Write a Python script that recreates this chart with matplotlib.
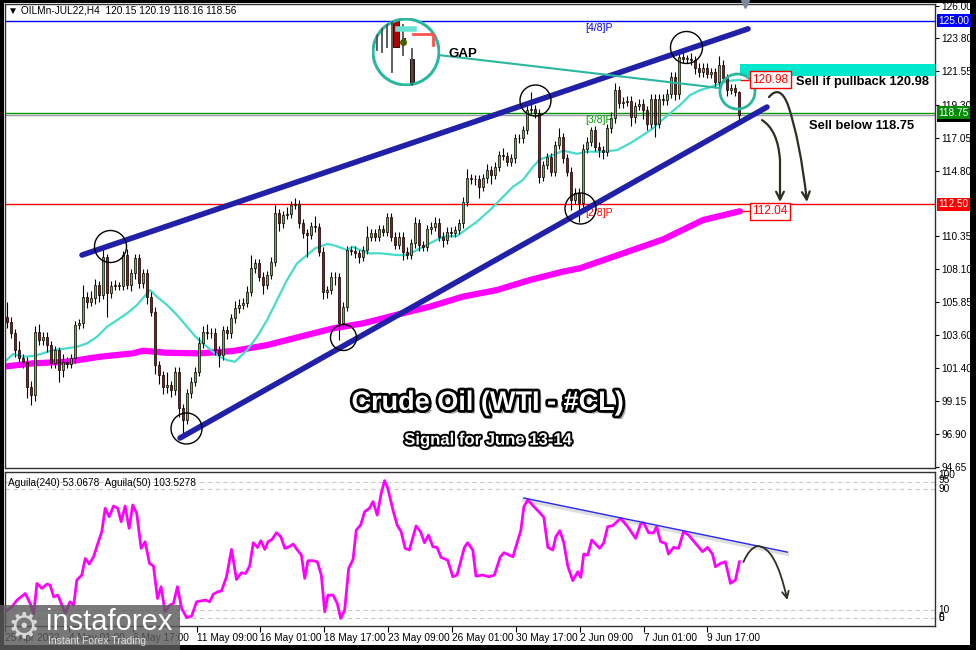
import numpy as np
import matplotlib
matplotlib.use("Agg")
import matplotlib.pyplot as plt
import matplotlib.patheffects as pe
from matplotlib.patches import Rectangle, Circle, FancyArrowPatch
from matplotlib.lines import Line2D
from matplotlib.path import Path
from matplotlib.transforms import blended_transform_factory

plt.rcParams['font.family'] = ['Liberation Sans', 'DejaVu Sans']

# ---- price data (H4 bars) ----
first_open = 104.18
closes = [
    104.86, 104.52, 103.73, 102.59, 102.03, 101.80, 100.10, 99.53, 103.84, 103.27,
    103.50, 102.93, 101.69, 102.59, 101.23, 101.80, 101.64, 102.03, 104.30, 104.41,
    106.22, 105.88, 106.11, 107.02, 106.34, 108.94, 106.45, 106.97, 106.95, 106.95,
    109.06, 107.02, 107.81, 108.83, 107.13, 107.81, 106.22, 105.20, 101.57, 100.89,
    100.10, 100.21, 99.87, 101.12, 98.62, 97.83, 99.65, 100.44, 101.12, 103.05,
    103.84, 103.73, 103.77, 102.59, 102.25, 103.95, 103.73, 104.75, 105.43, 105.66,
    105.81, 106.56, 108.15, 108.49, 107.58, 107.02, 107.70, 108.60, 111.89, 111.21,
    111.78, 111.85, 112.46, 112.53, 111.21, 110.53, 110.42, 111.03, 110.94, 109.28,
    106.56, 106.68, 107.58, 107.54, 104.41, 105.55, 109.40, 109.36, 109.18, 108.95,
    109.40, 110.31, 110.54, 110.31, 110.83, 110.65, 111.63, 110.31, 109.74, 110.31,
    109.29, 109.06, 109.86, 111.22, 109.74, 109.63, 110.81, 110.99, 111.26, 110.31,
    110.08, 110.65, 110.58, 110.76, 111.22, 112.69, 114.28, 114.21, 114.21, 113.71,
    114.28, 114.85, 114.51, 115.07, 115.87, 115.80, 115.41, 115.64, 117.00, 117.00,
    117.57, 118.93, 118.97, 118.70, 114.39, 115.19, 115.71, 114.73, 116.55, 117.07,
    115.64, 114.73, 112.81, 113.30, 112.60, 116.30, 116.77, 117.56, 116.43, 116.20,
    116.10, 117.67, 118.36, 120.28, 119.38, 119.50, 119.55, 118.47, 119.20, 119.35,
    118.90, 118.00, 119.70, 118.00, 119.70, 119.60, 120.05, 121.20, 120.00, 122.55,
    122.40, 122.40, 122.30, 121.80, 121.50, 121.80, 121.40, 121.50, 120.80, 122.00,
    121.10, 120.30, 120.40, 120.15, 118.56]
upper_wick = [
    .3, 1.0, .3, .3, .6, .3, .3, .4, .4, .5,
    .3, .3, .3, .3, .2, .5, .3, .3, .3, .3,
    .8, .3, .5, .4, .3, .5, .2, .3, .4, .3,
    .3, .4, .3, .3, .3, .3, .3, .3, .3, .3,
    .3, .9, .3, .3, .3, .3, .3, .3, .3, .4,
    .4, .5, .3, .3, .3, .3, .3, .3, .5, .4,
    .3, .4, .9, .3, .3, .3, .3, .3, .6, .3,
    .3, .5, .3, .4, .3, .3, .3, .3, .7, .3,
    .3, .3, .3, .3, .3, .3, .3, .3, .3, .2,
    .3, .7, .3, .3, .3, .3, .3, .3, .3, .3,
    .3, .3, .3, .4, .3, .3, .3, .3, .4, .3,
    .3, .3, .3, .3, .3, .3, .6, .3, .3, .3,
    .3, .4, .3, .3, .3, .5, .3, .3, .3, .3,
    .3, .3, 1.2, .3, .3, .3, .3, .3, .3, .6,
    .3, .3, .3, .3, .3, .3, .3, .2, .3, .3,
    .3, .3, .4, .5, .3, .3, .3, .3, .3, .3,
    .3, .3, .3, .3, .3, .3, .3, .3, .3, .4,
    .4, .3, .4, .3, .3, .3, .3, .3, .3, .6,
    .3, .3, .3, .3, .04]
lower_wick = [
    .3, .4, .3, .5, .3, .4, .8, .7, .4, .3,
    .3, .5, .3, .3, .8, .5, .3, .3, .3, .3,
    .3, .4, .3, .4, .5, .3, 1.6, .3, .3, .3,
    .3, .3, .4, .4, .3, .3, .5, .3, .6, .6,
    .5, .4, .5, .3, .6, .9, .3, .3, .3, .3,
    .3, .4, .3, .3, .8, .3, .4, .3, .3, .3,
    .3, .3, .3, .3, .3, .6, .3, .3, .3, .5,
    .3, .3, .3, .3, .3, .3, 1.5, .3, .3, .3,
    .5, .4, .3, .5, 1.1, .3, .3, .3, .3, .4,
    .3, .3, .3, .3, .3, .3, .3, .3, .3, .3,
    .6, .3, .3, .3, .4, .3, .3, .3, .3, .3,
    .5, .3, .3, .3, .3, .3, .3, .3, .4, .8,
    .3, .3, .6, .3, .3, .3, .3, .3, .3, .3,
    .3, .3, .3, .3, .4, .3, .3, .3, .3, .3,
    .3, .3, .7, .3, 1.3, .3, .3, .3, .3, .5,
    .5, .3, .3, .3, .3, .3, .3, .6, .4, .3,
    .6, .4, .3, .9, .3, .3, .3, .3, .4, .3,
    .3, .3, .3, .4, .3, .3, .3, .3, .4, .3,
    .3, .4, .3, .3, .4]

# cyan moving average (bar position, price)
cyan_bar = [0, 2.5, 5, 7.5, 10, 12.5, 16, 18.5, 21, 23.5, 26, 28.5, 31, 33.5, 36, 36.75,
            38.5, 41, 43.5, 46, 48.5, 51, 53.5, 56, 58, 61, 63.5, 66, 68.5, 71, 73.5, 76,
            78, 81, 82.5, 84.25, 86, 87.5, 89.25, 91.75, 94.25, 98.5, 101, 103.5, 106.75,
            110, 113.5, 115, 118.5, 121.75, 124.25, 127.5, 130, 132.5, 134.25, 137.5, 140,
            143.5, 146, 150, 153.5, 156.75, 160, 162.5, 164.25, 166.75, 169.25, 171.75,
            174.25, 176.75, 179.25, 181.75, 184.25]
cyan_val = [101.7, 102.32, 102.14, 102.19, 102.37, 102.59, 102.71, 102.82, 103.05, 103.50,
            104.18, 104.63, 105.09, 105.66, 106.45, 106.68, 106.22, 105.66, 104.98, 104.18,
            103.39, 102.82, 102.25, 101.91, 101.80, 102.59, 103.50, 104.63, 105.99, 107.36,
            108.49, 109.06, 109.51, 109.81, 109.74, 109.58, 109.40, 109.62, 109.40, 109.17,
            109.18, 109.06, 109.06, 109.40, 109.86, 110.31, 110.36, 110.65, 111.33, 112.12,
            112.81, 113.71, 114.17, 115.07, 115.57, 115.87, 116.16, 115.95, 116.09, 116.09,
            116.20, 116.66, 117.22, 117.68, 118.13, 118.70, 119.26, 119.94, 120.28, 120.47,
            120.74, 120.92, 120.98]

# magenta moving average
mag_bar = [0, 7.5, 16, 24.25, 32.5, 35, 41, 49.25, 57.5, 66, 74.25, 82.5, 90, 94.25,
           98.5, 106.75, 115, 123.5, 131.75, 140, 144.25, 165, 175, 184.25]
mag_val = [101.46, 101.69, 101.80, 102.14, 102.37, 102.55, 102.41, 102.37, 102.53, 102.93,
           103.50, 104.07, 104.41, 104.70, 105.00, 105.55, 106.23, 106.68, 107.36, 107.93,
           108.16, 110.12, 111.44, 112.04]

# Aguila oscillator
agu_bar = [0.1, 1.75, 3.0, 5.1, 6.3, 7.2, 8.0, 9.25, 10.5, 11.3, 12.2, 13.25, 15.1, 16.3,
           17.2, 18.0, 19.25, 20.1, 21.1, 22.2, 23.4, 24.25, 25.1, 26.1, 27.2, 28.25, 29.1,
           30.1, 31.1, 32.0, 33.0, 34.1, 35.1, 36.2, 37.2, 38.2, 39.1, 40.1, 41.3, 42.2,
           43.2, 44.25, 45.5, 46.75, 48.0, 49.25, 50.3, 51.3, 52.2, 53.4, 54.25, 55.5,
           56.75, 58.0, 59.25, 60.3, 61.3, 62.2, 63.25, 64.1, 65.1, 65.9, 66.9, 68.0, 69.1,
           70.1, 71.2, 72.2, 73.25, 74.25, 75.1, 75.9, 77.2, 78.25, 79.25, 80.1, 80.9,
           82.2, 83.25, 84.1, 85.1, 86.1, 87.2, 88.0, 89.1, 90.1, 91.3, 92.2, 93.25, 94.25,
           95.1, 95.9, 97.2, 98.25, 99.25, 100.25, 101.3, 103.0, 104.1, 105.1, 106.1,
           107.2, 108.25, 109.25, 110.9, 112.2, 113.25, 115.1, 115.9, 117.2, 118.0, 119.7,
           121.3, 122.6, 124.1, 125.0, 127.25, 128.5, 129.25, 130.0, 131.0, 132.5, 133.75,
           135.0, 136.0, 137.25, 138.0, 139.0, 140.0, 141.0, 142.25, 143.5, 144.25, 145.0,
           146.0, 147.0, 148.0, 149.0, 150.0, 151.0, 152.25, 154.25, 156.0, 158.0, 159.25,
           160.0, 161.25, 162.5, 163.25, 164.25, 165.5, 166.25, 167.5, 168.75, 170.0,
           171.25, 173.0, 174.75, 176.0, 177.25, 178.0, 179.25, 180.5, 181.75, 183.0, 184.0]
agu_val = [9.0, 12.2, 16.6, 21.0, 14.4, 7.8, 27.7, 24.4, 27.2, 26.6, 18.8, 19.9, 7.8, 15.5,
           13.3, 29.9, 33.2, 44.2, 40.5, 45.3, 55.3, 61.9, 77.4, 71.8, 78.9, 77.4, 68.5,
           78.9, 64.1, 79.6, 74.0, 50.9, 55.3, 40.9, 39.2, 17.7, 25.5, 8.9, 13.3, 14.4,
           25.5, 11.1, 5.1, 6.0, 15.5, 16.2, 16.6, 15.5, 20.6, 22.2, 22.8, 32.1,
           50.2, 30.3, 34.7, 34.3, 39.2, 54.6, 51.5, 55.9, 50.2, 55.3, 56.8, 61.2, 58.6,
           50.9, 52.0, 53.7, 49.8, 46.4, 31.0, 42.7, 42.7, 42.0, 33.2, 8.9, 19.9,
           19.9, 14.4, 4.5, 10.0, 37.6, 43.6, 63.0, 66.3, 75.1, 77.4, 81.8, 72.9, 87.3,
           95.7, 90.6, 76.2, 66.3, 61.9, 50.9, 49.8, 65.7, 61.9, 54.6, 59.7,
           52.0, 51.5, 44.9, 43.1, 32.1, 33.2, 51.5, 54.6, 49.8, 32.5, 33.2,
           32.1, 33.2, 45.3, 48.0, 45.3, 56.4, 63.0, 78.5, 82.9, 78.5, 75.1,
           71.4, 51.5, 49.8, 58.6, 62.6, 54.6, 39.2, 29.5, 35.4, 31.7, 47.1,
           46.4, 56.4, 53.7, 50.9, 54.6, 65.2, 65.9, 70.7, 65.2, 57.5, 67.0,
           67.9, 61.2, 61.2, 65.2, 55.3, 54.2, 47.1, 51.5, 50.9, 61.9,
           59.7, 54.2, 48.7, 51.5, 47.1, 38.7, 40.9, 42.0, 27.7, 29.9, 42.0]

# channel lines and annotation anchors (bar position, price)
upper_tl_bar, upper_tl_val = [19.75, 186.25], [109.06, 124.45]
lower_tl_bar, lower_tl_val = [44.25, 191.0], [96.61, 119.13]
osc_tl_bar, osc_tl_val = [130.0, 196.0], [84.2, 48.4]
circle_bar = [26.75, 45.75, 85.0, 133.0, 170.75, 144.25]
circle_val = [109.67, 97.29, 103.48, 119.61, 123.21, 112.26]
circle_px = [32, 31, 26, 31, 32, 31]
levels = {'125': 125.00, '118.75': 118.75, '118.56': 118.56, '112.5': 112.50}

date_ticks = [0, 16, 32, 48, 64, 80, 96, 112, 128, 144, 160, 176]
date_labels = ['25 Apr 2022', '4 May 01:00', '6 May 17:00', '11 May 09:00', '16 May 01:00',
               '18 May 17:00', '23 May 09:00', '26 May 01:00', '30 May 17:00',
               '2 Jun 09:00', '7 Jun 01:00', '9 Jun 17:00']
price_ticks = [126.00, 123.80, 121.55, 119.30, 117.05, 114.80, 110.35, 108.10,
               105.85, 103.60, 101.40, 99.15, 96.90, 94.65]

# ---- figure ----
W, H = 976, 650
fig = plt.figure(figsize=(W / 100, H / 100), dpi=100)
fig.patch.set_facecolor('black')
fig.add_artist(Rectangle((4 / W, 5 / H), 966 / W, 642 / H, transform=fig.transFigure,
                         facecolor='white', edgecolor='none', zorder=-5))

ax = fig.add_axes([5 / W, 182 / H, 930 / W, 464 / H])
ax2 = fig.add_axes([5 / W, 24 / H, 930 / W, 154 / H])
for a in (ax, ax2):
    a.set_xlim(0.5, 233.0)
    a.set_facecolor('white')
    for s in a.spines.values():
        s.set_color('#303030')
        s.set_linewidth(1)
ax.set_ylim(94.57, 126.14)
ax2.set_ylim(-0.5, 101.4)

# candles
closes_a = np.array(closes)
opens_a = np.r_[first_open, closes_a[:-1]]
highs = np.maximum(opens_a, closes_a) + np.array(upper_wick)
lows = np.minimum(opens_a, closes_a) - np.array(lower_wick)
idx = np.arange(len(closes_a))
up = closes_a >= opens_a
body = np.maximum(np.abs(closes_a - opens_a), 0.05)
ax.vlines(idx, lows, highs, color='black', lw=0.8, zorder=3)
ax.bar(idx[up], body[up], bottom=opens_a[up], width=0.72, color='#6fb62a',
       edgecolor='black', linewidth=0.5, zorder=4)
ax.bar(idx[~up], body[~up], bottom=closes_a[~up], width=0.72, color='#c80000',
       edgecolor='black', linewidth=0.5, zorder=4)

# moving averages
ax.plot(mag_bar, mag_val, color='#ff00ff', lw=4.5, solid_capstyle='round', zorder=2)
ax.plot(cyan_bar, cyan_val, color='#46dccb', lw=1.6, zorder=2)

# horizontal levels
ax.axhline(levels['125'], color='#0000ff', lw=1, zorder=1)
ax.axhline(levels['118.75'], color='#009a00', lw=1, zorder=1)
ax.axhline(levels['118.56'], color='#9a9aaa', lw=1, zorder=1)
ax.axhline(levels['112.5'], color='#ff0000', lw=1, zorder=1)
ax.text(145.5, 124.5, '[4/8]P', color='#0000ff', fontsize=7.5, va='center')
ax.text(145.5, 118.24, '[3/8]P', color='#009a00', fontsize=7.5, va='center')
ax.text(145.5, 111.92, '[2/8]P', color='#ff0000', fontsize=7.5, va='center')

# channel
ax.plot(upper_tl_bar, upper_tl_val, color='#2020a8', lw=4, solid_capstyle='round', zorder=6)
ax.plot(lower_tl_bar, lower_tl_val, color='#2020a8', lw=4, solid_capstyle='round', zorder=6)

# circles
for cb, cv, cp in zip(circle_bar, circle_val, circle_px):
    ax.plot(cb, cv, marker='o', ms=cp * 0.72, mfc='none', mec='black', mew=1, zorder=8)
ax.plot(183.5, 120.22, marker='o', ms=35 * 0.72, mfc='none', mec='#2ab7a0', mew=2, zorder=8)
ax.plot([108.75, 179.25], [122.67, 120.42], color='#2ab7a0', lw=1.5, zorder=7)

# sell zone and labels
ax.add_patch(Rectangle((184.25, 121.24), 233 - 184.25, 0.81, facecolor='#00e8cc',
                       edgecolor='none', zorder=7))
ax.plot([184.5, 187.2], [120.98, 120.98], color='#ff0000', lw=1, zorder=7)
ax.plot([184.5, 187.2], [112.04, 112.04], color='#ff0000', lw=1, zorder=7)
box_red = dict(boxstyle='square,pad=0.2', facecolor='white', edgecolor='#ff0000', lw=1)
ax.text(187.3, 120.98, '120.98', color='#ff0000', fontsize=8.5, va='center', bbox=box_red, zorder=9)
ax.text(187.3, 112.04, '112.04', color='#ff0000', fontsize=8.5, va='center', bbox=box_red, zorder=9)
ax.text(198.25, 120.83, 'Sell if pullback 120.98', fontweight='bold',
        fontsize=9.3, va='center', zorder=9)
ax.text(201.5, 117.84, 'Sell below 118.75', fontweight='bold',
        fontsize=9.3, va='center', zorder=9)
ax.text(111.25, 122.73, 'GAP', fontweight='bold', fontsize=9.5, va='center', zorder=9)

# curved arrows
arrow_kw = dict(arrowstyle='->', mutation_scale=14, color='#2e2e22', lw=1.6, zorder=9)
arrow1 = [(191.5, 119.81), (194.25, 120.69), (196.25, 119.27), (199.25, 116.88), (201.0, 112.67)]
arrow2 = [(189.75, 118.24), (193.75, 117.56), (194.25, 115.52), (194.25, 112.67)]
ax.add_patch(FancyArrowPatch(path=Path(arrow1, [Path.MOVETO, Path.CURVE3, Path.CURVE3,
                                                Path.CURVE3, Path.CURVE3]), **arrow_kw))
ax.add_patch(FancyArrowPatch(path=Path(arrow2, [Path.MOVETO, Path.CURVE3, Path.CURVE3,
                                                Path.LINETO]), **arrow_kw))

# title
fx = [pe.SimplePatchShadow(offset=(2.5, -2.5), alpha=0.45), pe.Stroke(linewidth=4, foreground='black'),
      pe.Normal()]
ax.text(0.519, 0.140, 'Crude Oil (WTI - #CL)', transform=ax.transAxes, ha='center', va='center',
        color='white', fontsize=19.5, fontweight='bold', path_effects=fx, zorder=10)
ax.text(0.519, 0.060, 'Signal for June 13-14', transform=ax.transAxes, ha='center', va='center',
        color='white', fontsize=12, fontweight='bold',
        path_effects=[pe.SimplePatchShadow(offset=(1.5, -1.5), alpha=0.45),
                      pe.Stroke(linewidth=2.8, foreground='black'), pe.Normal()], zorder=10)
ax.text(0.003, 0.985, '\u25bc OILMn-JUL22,H4  120.15 120.19 118.16 118.56', transform=ax.transAxes,
        fontsize=7.3, va='center', ha='left')

# price axis
ax.set_xticks([])
ax.yaxis.tick_right()
ax.set_yticks(price_ticks)
ax.set_yticklabels(['%.2f' % p for p in price_ticks])
ax.tick_params(axis='y', labelsize=7.3, length=3, pad=1.5, width=0.8)
trans = blended_transform_factory(ax.transAxes, ax.transData)
for val, txt, col in [(125.0, '125.00', '#0000ff'), (112.5, '112.50', '#ff0000'),
                      (118.56, '118.56', 'black'), (118.75, '118.75', '#008a00')]:
    ax.text(1.004, val, txt, transform=trans, color='white', fontsize=7.3, va='center', ha='left',
            bbox=dict(boxstyle='square,pad=0.15', facecolor=col, edgecolor='none'), clip_on=False,
            zorder=10)

# GAP inset
gap_ax = fig.add_axes([(406 - 34) / W, (H - 52 - 34) / H, 68 / W, 68 / H])
gap_ax.set_xlim(0, 1)
gap_ax.set_ylim(0, 1)
gap_ax.axis('off')
clip = Circle((0.5, 0.5), 0.5, transform=gap_ax.transData)
arts = [gap_ax.add_patch(Rectangle((0, 0), 1, 1, facecolor='white', edgecolor='none'))]
for u, v0, v1 in [(0.075, 0.525, 0.925), (0.14, 0.5, 0.9), (0.225, 0.575, 0.95), (0.29, 0.2, 1.0),
                  (0.46, 0.45, 0.9), (0.59, 0.0, 0.55)]:
    arts += gap_ax.plot([u, u], [v0, v1], color='#505050', lw=1.3)
arts += gap_ax.plot([0.375, 0.625], [0.835, 0.835], color='#6be3d4', lw=4)
arts += gap_ax.plot([0.6, 0.9, 0.9], [0.765, 0.765, 0.6], color='#ff5050', lw=2)
arts.append(gap_ax.add_patch(Rectangle((0.315, 0.575), 0.075, 0.45, facecolor='#b00000',
                                       edgecolor='black', lw=0.6)))
arts.append(gap_ax.add_patch(Rectangle((0.435, 0.65), 0.05, 0.05, facecolor='#80c000',
                                       edgecolor='black', lw=0.6)))
arts += gap_ax.plot([0.46], [0.64], marker='o', ms=4, color='#406000')
arts.append(gap_ax.add_patch(Rectangle((0.56, 0.0), 0.055, 0.4, facecolor='#b00000',
                                       edgecolor='black', lw=0.6)))
for a in arts:
    a.set_clip_path(clip)
gap_ax.add_patch(Circle((0.5, 0.5), 0.485, fill=False, edgecolor='#2ab7a0', lw=2.2))

# oscillator panel
for lv in (95, 90, 10, 5):
    ax2.axhline(lv, color='#c8c8c8', lw=0.8, ls=(0, (4, 3)), zorder=1)
ax2.plot(agu_bar, agu_val, color='#ff00ff', lw=2, zorder=3)
ax2.plot(osc_tl_bar, [v - 1.2 for v in osc_tl_val], color='#d0d0d0', lw=3, alpha=0.7, zorder=2)
ax2.plot(osc_tl_bar, osc_tl_val, color='#2828ff', lw=1, zorder=4)
osc_arrow = [(185.0, 41.8), (186.5, 51.1), (188.5, 52.4), (193.0, 52.4), (196.0, 16.7)]
ax2.add_patch(FancyArrowPatch(path=Path(osc_arrow, [Path.MOVETO, Path.CURVE3, Path.CURVE3,
                                                    Path.CURVE3, Path.CURVE3]),
                              arrowstyle='->', mutation_scale=12, color='#2e2e22', lw=1.3, zorder=5))
ax2.text(0.003, 0.93, 'Aguila(240) 53.0678  Aguila(50) 103.5278', transform=ax2.transAxes,
         fontsize=7.3, va='center', ha='left')
trans2 = blended_transform_factory(ax2.transAxes, ax2.transData)
for val, txt in [(99.5, '100'), (96, '95'), (90, '90'), (10, '10'), (5, '5'), (4.5, '0')]:
    ax2.text(1.004, val, txt, transform=trans2, fontsize=7.3, va='center', ha='left', clip_on=False)
ax2.set_yticks([])
ax2.set_xticks(date_ticks)
ax2.set_xticklabels(date_labels)
for lbl in ax2.get_xticklabels():
    lbl.set_horizontalalignment('left')
ax2.tick_params(axis='x', labelsize=7.3, length=4, pad=1, width=0.8)

# instaforex badge
fig.add_artist(Rectangle((0, 0), 180 / W, 45 / H, transform=fig.transFigure, facecolor='#5c5c5c',
                         edgecolor='none', alpha=0.82, zorder=20))
fig.text(24 / W, 1 - 627 / H, '\u2699', color='#d8d8d8', fontsize=26, ha='center', va='center',
         family='DejaVu Sans', zorder=21)
fig.text(46 / W, 1 - 622 / H, 'instaforex', color='white', fontsize=21,
         ha='left', va='center', zorder=21)
fig.text(48 / W, 1 - 641 / H, 'Instant Forex Trading', color='#e0e0e0', fontsize=7.5,
         ha='left', va='center', zorder=21)
fig.add_artist(Line2D([745 / W], [1 - 4 / H], transform=fig.transFigure, marker='v', ms=6,
                      color='#7a8a9a', zorder=21))

fig.savefig('out.png', dpi=100, facecolor=fig.get_facecolor())
